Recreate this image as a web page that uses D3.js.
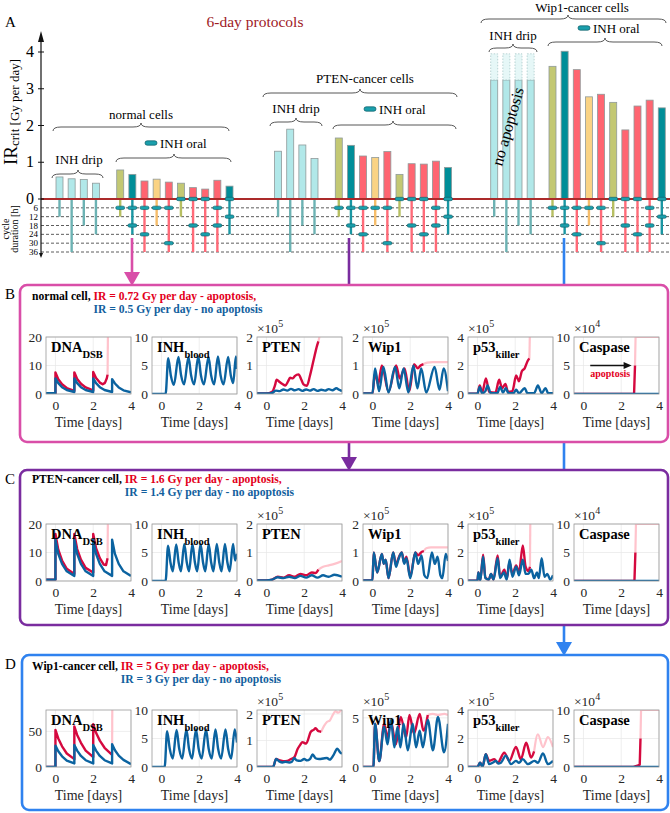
<!DOCTYPE html>
<html>
<head>
<meta charset="utf-8">
<script src="https://cdn.jsdelivr.net/npm/d3@7"></script>
<style>
  body { margin: 0; background: #fff; }
  text { font-family: "Liberation Serif", "DejaVu Serif", serif; }
</style>
</head>
<body>
<div id="chart"></div>
<script>
// ---------- panel A : critical IR doses ----------
const groups = ['normal cells', 'PTEN-cancer cells', 'Wip1-cancer cells'];
const irTicks = [0, 1, 2, 3, 4];
const cycleTicks = [6, 12, 18, 24, 30, 36];
const dripIR = [
  [0.6, 0.55, 0.53, 0.43],
  [1.3, 1.9, 1.47, 1.1],
  [3.24, 3.24, 3.24, 3.24]
];
const wip1DripBeyond = 3.95; // no apoptosis: bars leave the range
const dripCycle = [12, 36, 18, 24];
const oralIR = [
  [0.79, 0.67, 0.49, 0.54, 0.46, 0.43, 0.31, 0.27, 0.51, 0.35],
  [1.66, 1.46, 1.17, 1.13, 1.29, 0.67, 0.96, 0.95, 1.03, 0.86],
  [3.61, 4.02, 3.52, 2.78, 2.85, 2.63, 1.88, 2.53, 2.69, 2.48]
];
const oralKind = ['olive', 'teal', 'red', 'yellow', 'red', 'olive', 'red', 'red', 'red', 'teal'];
const oralCycle = [12, 24, 36, 18, 36, 12, 36, 36, 36, 24];
const oralDoses = [[6], [6, 18], [6, 24], [6], [6, 30], [0], [0, 18], [0, 24], [6, 18], [0, 12]];

// ---------- panels B-D : time courses [t, value] ----------
const timeTicks = [0, 2, 4];
const varNames = ['DNA', 'INH', 'PTEN', 'Wip1', 'p53', 'Caspase'];
const varSubs = ['DSB', 'blood', '', '', 'killer', ''];
const varExp = ['', '', '5', '5', '5', '4'];
const yMaxBC = [20, 10, 2, 2, 4, 10];
const yTicksBC = [[0, 10, 20], [0, 5, 10], [0, 1, 2], [0, 1, 2], [0, 2, 4], [0, 5, 10]];
const yMaxD = [80, 10, 2.15, 5.8, 4, 10];
const yTicksD = [[0, 50], [0, 5, 10], [0, 1, 2], [0, 5], [0, 2, 4], [0, 5, 10]];
const cellNames = ['normal cell, ', 'PTEN-cancer cell, ', 'Wip1-cancer cell, '];
const irApoptosis = [0.72, 1.6, 5];
const irNoApoptosis = [0.5, 1.4, 3];

// B: normal cell
const B_dna_blue = [[-0.5,0.3],[0,0.3],[0,5.5],[0.15,3.8],[0.35,2.4],[0.6,1.4],[1,0.7],[1,5.5],[1.15,3.8],[1.35,2.4],[1.6,1.4],[2,0.7],[2,5.5],[2.15,3.8],[2.35,2.4],[2.6,1.4],[3,0.7],[3,5.2],[3.15,3.7],[3.35,2.3],[3.6,1.3],[4,0.6]];
const B_dna_red = [[-0.5,0.3],[0,0.3],[0,7.6],[0.15,5.2],[0.35,3.4],[0.6,2.1],[1,1.1],[1,7.6],[1.15,5.3],[1.35,3.6],[1.6,2.3],[2,1.3],[2,7.7],[2.15,5.6],[2.35,4],[2.5,3.4],[2.62,3.9],[2.72,5.5],[2.76,6.8]];
const B_dna_pale = [[2.76,6.8],[2.78,22]];
const B_inh_blue = [[-0.5,0],[0.22,0],[0.36,6.3],[0.5,3.2],[0.66,1.6],[0.9,6.5],[1.04,3.3],[1.2,1.7],[1.43,6.5],[1.57,3.3],[1.73,1.7],[1.95,6.6],[2.09,3.3],[2.25,1.7],[2.49,6.5],[2.63,3.3],[2.79,1.7],[2.99,6.6],[3.13,3.3],[3.29,1.7],[3.53,6.5],[3.67,3.3],[3.8,1.9],[3.94,6.6],[4,4.4]];
const B_pten_blue = [[-0.5,0.02],[0,0.02],[0.3,0.04],[0.5,0.12],[0.7,0.1],[0.9,0.16],[1.1,0.12],[1.3,0.18],[1.5,0.13],[1.7,0.17],[1.9,0.11],[2.1,0.16],[2.3,0.12],[2.5,0.17],[2.7,0.11],[2.9,0.15],[3.1,0.12],[3.3,0.17],[3.5,0.13],[3.7,0.2],[3.85,0.15],[4,0.1]];
const B_pten_red = [[-0.5,0.02],[0,0.02],[0.3,0.08],[0.45,0.3],[0.54,0.5],[0.7,0.42],[0.85,0.35],[1.0,0.3],[1.15,0.45],[1.25,0.57],[1.4,0.55],[1.5,0.63],[1.7,0.69],[1.85,0.5],[1.96,0.34],[2.14,0.29],[2.3,0.63],[2.5,1.2],[2.68,1.7],[2.75,1.85]];
const B_pten_pale = [[2.75,1.85],[2.8,2.0],[2.85,2.3]];
const B_wip_blue = [[-0.5,0.02],[0,0.02],[0.14,0.9],[0.35,0.1],[0.58,0.95],[0.85,0.05],[1.2,0.95],[1.42,0.2],[1.65,0.9],[1.9,0.05],[2.17,1.0],[2.38,0.2],[2.58,0.9],[2.85,0.05],[3.29,0.95],[3.55,0.15],[3.77,0.9],[4,0.1]];
const B_wip_red = [[-0.5,0.02],[0,0.02],[0.14,0.75],[0.3,0.35],[0.5,1.0],[0.85,0.08],[1.25,1.0],[1.45,0.55],[1.7,0.9],[1.95,0.1],[2.2,1.05],[2.4,0.9],[2.55,1.0],[2.7,1.05]];
const B_wip_pale = [[2.7,1.05],[2.9,1.1],[3.2,1.12],[4,1.12]];
const B_p53_blue = [[-0.5,0.02],[0,0.02],[0.12,0.5],[0.25,0.05],[0.42,0.2],[0.54,0.6],[0.7,0.05],[1.05,0.05],[1.2,0.5],[1.35,0.1],[1.5,0.4],[1.65,0.05],[1.9,0.05],[2.05,0.3],[2.2,0.05],[2.5,0.4],[2.65,0.05],[3.0,0.05],[3.2,0.6],[3.4,0.05],[3.6,0.4],[3.75,0.05],[4,0.05]];
const B_p53_red = [[-0.5,0.02],[0,0.02],[0.12,0.6],[0.25,0.1],[0.45,1.1],[0.62,0.15],[0.95,0.1],[1.15,1.0],[1.3,0.4],[1.48,0.7],[1.62,0.15],[1.85,0.2],[2.05,1.3],[2.2,0.9],[2.35,1.6],[2.5,1.8],[2.65,2.3],[2.75,2.5]];
const B_p53_pale = [[2.75,2.5],[2.78,4.5]];
const B_casp_blue = [[-0.5,0],[4,0]];
const B_casp_red = [[-0.5,0],[2.68,0],[2.73,5]];
const B_casp_pale = [[2.73,5],[2.76,10],[4,10]];

// C: PTEN-cancer cell
const C_dna_blue = [[-0.5,0.5],[0,0.5],[0,14.5],[0.15,9.5],[0.35,6],[0.6,3.4],[1,1.8],[1,14.5],[1.15,9.5],[1.35,6],[1.6,3.4],[2,1.8],[2,14.5],[2.15,9.5],[2.35,6],[2.6,3.4],[3,1.8],[3,14.5],[3.15,9.5],[3.35,6],[3.6,3.4],[4,1.8]];
const C_dna_red = [[-0.5,0.5],[0,0.5],[0,16.5],[0.15,11],[0.35,7.2],[0.6,4.3],[1,2.5],[1,16.5],[1.15,11.2],[1.35,7.5],[1.6,4.6],[2,3],[2,16.5],[2.15,11.5],[2.35,8],[2.55,5.8],[2.68,5.6],[2.76,8]];
const C_dna_pale = [[2.76,8],[2.78,25]];
const C_inh_blue = [[-0.5,0],[0.22,0],[0.35,6.2],[0.48,3.2],[0.6,1.7],[0.78,6.4],[0.91,3.3],[1.03,1.7],[1.21,6.5],[1.34,3.3],[1.46,1.7],[1.64,6.5],[1.77,3.3],[1.89,1.7],[2.07,6.5],[2.2,3.3],[2.32,1.7],[2.5,6.5],[2.63,3.3],[2.75,1.7],[2.93,6.5],[3.06,3.3],[3.18,1.7],[3.36,6.5],[3.49,3.3],[3.61,1.7],[3.79,6.5],[3.9,3.6],[4,4.8]];
const C_pten_blue = [[-0.5,0.02],[0,0.02],[0.3,0.05],[0.6,0.13],[0.9,0.1],[1.2,0.15],[1.5,0.1],[1.8,0.18],[2.1,0.12],[2.4,0.2],[2.7,0.12],[3.0,0.2],[3.3,0.15],[3.6,0.22],[4,0.15]];
const C_pten_red = [[-0.5,0.02],[0,0.02],[0.3,0.05],[0.6,0.15],[0.9,0.12],[1.2,0.2],[1.5,0.15],[1.8,0.25],[2.1,0.2],[2.4,0.3],[2.6,0.28],[2.75,0.4]];
const C_pten_pale = [[2.75,0.4],[3.0,0.5],[3.3,0.55],[3.6,0.6],[4,0.7]];
const C_wip_blue = [[-0.5,0.02],[0,0.02],[0.07,1.0],[0.25,0.3],[0.5,0.95],[0.6,0.6],[0.7,0.75],[0.85,0.1],[1.1,1.0],[1.25,0.5],[1.35,0.7],[1.55,1.0],[1.68,0.6],[1.8,0.8],[2.0,0.1],[2.27,1.0],[2.42,0.6],[2.6,0.9],[2.75,0.2],[2.9,0.1],[3.15,1.0],[3.3,0.6],[3.45,0.85],[3.6,0.2],[3.7,0.1],[3.88,0.95],[4,0.7]];
const C_wip_red = [[-0.5,0.02],[0,0.02],[0.07,1.0],[0.25,0.3],[0.5,0.95],[0.6,0.6],[0.7,0.75],[0.85,0.1],[1.1,1.0],[1.25,0.55],[1.35,0.75],[1.55,1.0],[1.68,0.65],[1.8,0.85],[2.0,0.15],[2.27,1.0],[2.42,0.9],[2.6,1.02],[2.72,1.05]];
const C_wip_pale = [[2.72,1.05],[2.85,1.15],[3.1,1.18],[4,1.18]];
const C_p53_blue = [[-0.5,0.02],[0,0.02],[0.05,0.6],[0.15,0.05],[0.3,1.7],[0.42,0.2],[0.6,0.1],[0.72,0.5],[0.85,0.1],[1.07,1.6],[1.2,0.2],[1.4,0.6],[1.55,0.1],[1.7,1.5],[1.85,0.3],[2.05,1.0],[2.2,0.4],[2.4,1.5],[2.55,0.5],[2.7,0.5],[2.85,0.8],[3.0,0.2],[3.15,0.6],[3.25,0.2],[3.4,1.6],[3.55,0.3],[3.7,0.5],[3.85,0.1],[4,0.4]];
const C_p53_red = [[-0.5,0.02],[0,0.02],[0.05,0.6],[0.15,0.05],[0.3,1.85],[0.42,0.25],[0.6,0.1],[0.72,0.5],[0.85,0.1],[1.07,1.8],[1.2,0.3],[1.43,0.8],[1.55,0.15],[1.7,1.3],[1.85,0.5],[2.05,1.1],[2.2,0.6],[2.4,2.5],[2.55,1.0],[2.7,0.7],[2.78,1.0]];
const C_p53_pale = [[2.78,1.0],[2.8,4.5]];
const C_casp_blue = [[-0.5,0],[4,0]];
const C_casp_red = [[-0.5,0],[2.7,0],[2.75,5]];
const C_casp_pale = [[2.75,5],[2.78,10],[4,10]];

// D: Wip1-cancer cell
const D_dna_blue = [[-0.5,0],[0,0],[0,30],[0.15,22],[0.35,15],[0.6,9],[1,5],[1,31],[1.15,23],[1.35,15.5],[1.6,9.5],[2,5],[2,31],[2.15,23],[2.35,15.5],[2.6,9.5],[3,5],[3,32],[3.15,23.5],[3.35,16],[3.6,10],[4,4]];
const D_dna_red = [[-0.5,0],[0,0],[0,52],[0.15,40],[0.35,29],[0.6,19],[1,11],[1,57],[1.15,45],[1.35,34],[1.6,23],[2,14],[2,60],[2.15,48],[2.35,37],[2.6,27],[3,17]];
const D_dna_pale = [[3,17],[3.01,90]];
const D_inh_blue = [[-0.5,0],[0.17,0],[0.3,6.3],[0.44,3.2],[0.6,1.5],[0.8,6.5],[0.94,3.2],[1.1,1.5],[1.32,6.6],[1.46,3.2],[1.62,1.5],[1.83,6.6],[1.97,3.2],[2.13,1.5],[2.36,6.6],[2.5,3.2],[2.66,1.5],[2.86,6.6],[3.0,3.2],[3.16,1.5],[3.39,6.6],[3.53,3.2],[3.69,1.5],[3.88,6.6],[4,4.3]];
const D_pten_blue = [[-0.5,0],[0.35,0],[0.51,0.3],[0.7,0.2],[0.85,0.17],[1.0,0.2],[1.2,0.17],[1.35,0.2],[1.47,0.34],[1.6,0.25],[1.8,0.23],[2.0,0.3],[2.15,0.25],[2.3,0.3],[2.45,0.47],[2.6,0.33],[2.8,0.3],[3.0,0.32],[3.2,0.34],[3.35,0.28],[3.55,0.45],[3.75,0.69],[3.9,0.55],[4,0.5]];
const D_pten_red = [[-0.5,0],[0.35,0],[0.51,0.3],[0.7,0.25],[0.9,0.22],[1.1,0.23],[1.3,0.3],[1.47,0.36],[1.65,0.68],[1.8,0.85],[1.9,0.94],[2.1,0.88],[2.35,1.33],[2.5,1.4],[2.6,1.46],[2.75,1.35],[2.9,1.33]];
const D_pten_pale = [[2.9,1.33],[3.05,1.55],[3.2,1.7],[3.35,1.75],[3.5,1.95],[3.65,2.1],[3.8,2.05],[4,2.2]];
const D_wip_blue = [[-0.5,0],[0.05,0],[0.14,4.4],[0.36,0.6],[0.62,4.1],[0.8,2.3],[0.98,4.8],[1.16,2.0],[1.33,4.1],[1.48,2.0],[1.65,4.4],[1.87,1.7],[2.13,4.4],[2.31,2.0],[2.5,3.7],[2.67,2.0],[2.93,4.8],[3.2,1.7],[3.47,5.1],[3.79,1.5],[4,4.4]];
const D_wip_red = [[-0.5,0],[0.05,0],[0.14,4.4],[0.36,0.6],[0.62,4.4],[0.8,3.0],[0.98,4.6],[1.24,2.3],[1.5,5.1],[1.78,3.0],[1.96,5.3],[2.2,3.4],[2.5,5.4],[2.7,3.7],[2.93,5.3]];
const D_wip_pale = [[2.93,5.3],[3.2,5.4],[3.47,5.3],[3.8,5.4],[4,5.3]];
const D_p53_blue = [[-0.5,0],[0,0],[0.14,0.3],[0.27,0.02],[0.44,0.9],[0.62,0.2],[0.8,0.3],[0.98,0.43],[1.1,0.25],[1.24,0.3],[1.5,0.8],[1.78,0.2],[2.04,0.43],[2.2,0.3],[2.4,0.55],[2.67,0.2],[3.02,0.43],[3.2,0.3],[3.47,0.95],[3.73,0.2],[4,0.43]];
const D_p53_red = [[-0.5,0],[0,0],[0.14,0.3],[0.27,0.02],[0.44,0.9],[0.62,0.43],[0.89,0.55],[1.07,0.3],[1.42,1.0],[1.69,0.43],[2.04,1.4],[2.3,0.55],[2.58,1.7],[2.84,0.67],[3.0,1.1]];
const D_p53_pale = [[3.0,1.1],[3.2,2.3],[3.47,1.4],[3.73,2.1],[4,1.4]];
const D_casp_blue = [[-0.5,0],[4,0]];
const D_casp_red = [[-0.5,0],[2.65,0],[2.9,0.3],[2.98,0.4],[3.02,5]];
const D_casp_pale = [[3.02,5],[3.05,10],[4,10]];

// ---------- drawing ----------
const svg = d3.select('#chart').append('svg')
  .attr('width', 670).attr('height', 813);

const barFill = { olive: '#c3c873', teal: '#008e98', red: '#ff6571', yellow: '#fad384', drip: '#b1e8e9' };
const stemCol = { olive: '#b7bf62', teal: '#1a97a3', red: '#ff6a78', yellow: '#f6bd6a', drip: '#6cb2b3' };

const yIR = d3.scaleLinear().domain([0, 4]).range([199, 52]);
const yCyc = d3.scaleLinear().domain([0, 36]).range([199, 252]);
const xSlot = d3.scaleLinear().domain([0, 14]).range([56, 226]);
const barW = 7;
const dripSlot = [0, 18, 35.8], oralSlot = [5, 23, 40.6];

const A = svg.append('g');

// dashed cycle-duration levels
A.selectAll('line.cyc').data(cycleTicks).join('line')
  .attr('x1', 41).attr('x2', 670)
  .attr('y1', d => yCyc(d)).attr('y2', d => yCyc(d))
  .attr('stroke', '#333').attr('stroke-width', 0.8).attr('stroke-dasharray', '3,2');

const bars = [];
groups.forEach((g, gi) => {
  dripIR[gi].forEach((v, i) => bars.push({
    x: xSlot(dripSlot[gi] + i), ir: v, kind: 'drip', cycle: dripCycle[i], doses: [],
    beyond: gi === 2 ? wip1DripBeyond : null
  }));
  oralIR[gi].forEach((v, i) => bars.push({
    x: xSlot(oralSlot[gi] + i), ir: v, kind: oralKind[i], cycle: oralCycle[i], doses: oralDoses[i]
  }));
});

// stems down to cycle duration
A.selectAll('line.stem').data(bars).join('line')
  .attr('x1', d => d.x + barW / 2).attr('x2', d => d.x + barW / 2)
  .attr('y1', yIR(0)).attr('y2', d => yCyc(d.cycle))
  .attr('stroke', d => stemCol[d.kind]).attr('stroke-width', 2.4);

// bars
A.selectAll('rect.bar').data(bars).join('rect')
  .attr('x', d => d.x).attr('width', barW)
  .attr('y', d => yIR(d.ir)).attr('height', d => yIR(0) - yIR(d.ir))
  .attr('fill', d => barFill[d.kind]).attr('stroke', '#8f9a9a').attr('stroke-width', 0.8);

A.selectAll('rect.beyond').data(bars.filter(d => d.beyond)).join('rect')
  .attr('x', d => d.x).attr('width', barW)
  .attr('y', d => yIR(d.beyond)).attr('height', d => yIR(d.ir) - yIR(d.beyond))
  .attr('fill', '#e6f7f7').attr('stroke', '#a9c9c9').attr('stroke-width', 0.8)
  .attr('stroke-dasharray', '1.5,1.5');

// baseline
A.append('line').attr('x1', 41).attr('x2', 670).attr('y1', yIR(0)).attr('y2', yIR(0))
  .attr('stroke', '#ab2a2a').attr('stroke-width', 2);

// oral dose pills
const pills = [];
bars.forEach(b => b.doses.forEach(t => pills.push({ x: b.x + barW / 2, t })));
A.selectAll('rect.pill').data(pills).join('rect')
  .attr('x', d => d.x - 4.5).attr('y', d => yCyc(d.t) - 1.7).attr('width', 9).attr('height', 3.4)
  .attr('rx', 1.7).attr('fill', '#1a9fac').attr('stroke', '#0b5a64').attr('stroke-width', 0.6);

// y axis with arrows
A.append('line').attr('x1', 41).attr('x2', 41).attr('y1', 40).attr('y2', 254)
  .attr('stroke', '#111').attr('stroke-width', 1.2);
A.append('path').attr('d', 'M41,31 L38,42 L44,42 Z').attr('fill', '#111');
A.append('path').attr('d', 'M41,258 L39,253 L43,253 Z').attr('fill', '#111');
A.selectAll('line.irt').data(irTicks).join('line')
  .attr('x1', 38).attr('x2', 44).attr('y1', d => yIR(d)).attr('y2', d => yIR(d))
  .attr('stroke', '#111');
A.selectAll('text.irt').data(irTicks).join('text')
  .attr('x', 34).attr('y', d => yIR(d) + 5).attr('text-anchor', 'end')
  .attr('font-size', 16).text(d => d);
A.selectAll('text.cyt').data(cycleTicks).join('text')
  .attr('x', 38).attr('y', d => yCyc(d) + 3).attr('text-anchor', 'end')
  .attr('font-size', 9).text(d => d);

const yl = A.append('text').attr('transform', 'translate(17,112) rotate(-90)').attr('text-anchor', 'middle');
yl.append('tspan').attr('font-size', 19).text('IR');
yl.append('tspan').attr('font-size', 13).attr('dy', 2).text('crit [Gy per day]');
A.append('text').attr('transform', 'translate(9,229) rotate(-90)').attr('text-anchor', 'middle')
  .attr('font-size', 10).text('cycle');
A.append('text').attr('transform', 'translate(18,229) rotate(-90)').attr('text-anchor', 'middle')
  .attr('font-size', 10).text('duration [h]');

A.append('text').attr('x', 5).attr('y', 27).attr('font-size', 15).text('A');
A.append('text').attr('x', 255).attr('y', 27).attr('text-anchor', 'middle')
  .attr('font-size', 15.5).attr('fill', '#9e1a1f').text('6-day protocols');

// braces + group labels
function brace(x1, x2, xm, y, h) {
  const p = d3.path();
  p.moveTo(x1, y + h);
  p.quadraticCurveTo(x1, y, x1 + h * 2, y);
  p.lineTo(xm - h * 2, y);
  p.quadraticCurveTo(xm, y, xm, y - h);
  p.quadraticCurveTo(xm, y, xm + h * 2, y);
  p.lineTo(x2 - h * 2, y);
  p.quadraticCurveTo(x2, y, x2, y + h);
  A.append('path').attr('d', p.toString()).attr('fill', 'none')
    .attr('stroke', '#444').attr('stroke-width', 0.9);
}
function label(x, y, s, anchor) {
  A.append('text').attr('x', x).attr('y', y).attr('text-anchor', anchor || 'middle')
    .attr('font-size', 13).text(s);
}
function pillLegend(x, y) {
  A.append('rect').attr('x', x).attr('y', y - 2.2).attr('width', 12).attr('height', 4.4).attr('rx', 2.2)
    .attr('fill', '#1a9fac').attr('stroke', '#0b5a64').attr('stroke-width', 0.7);
  label(x + 15, y + 4.5, 'INH oral', 'start');
}
// normal cells
label(141, 119, groups[0]); brace(53, 229, 141, 127, 4);
label(79, 164, 'INH drip'); brace(52, 103, 78, 174, 4);
pillLegend(145, 143); brace(116, 231, 174, 158, 4);
// PTEN-cancer cells
label(365, 83, groups[1]); brace(263, 457, 360, 93, 4);
label(296, 113, 'INH drip'); brace(270, 322, 296, 122, 4);
pillLegend(364, 109); brace(333, 456, 393, 125, 4);
// Wip1-cancer cells
label(582, 12, groups[2]); brace(481, 666, 568, 19, 4);
label(513, 40, 'INH drip'); brace(489, 537, 513, 48, 4);
pillLegend(578, 28); brace(548, 662, 605, 42, 4);

A.append('text').attr('transform', 'translate(513,128) rotate(-74)').attr('text-anchor', 'middle')
  .attr('font-size', 16).text('no apoptosis');

// ---------- connecting arrows ----------
const cMag = '#d94ea8', cPur = '#7a2c9f', cBlu = '#2f82ef';
function vline(x, y1, y2, c) {
  svg.append('line').attr('x1', x).attr('x2', x).attr('y1', y1).attr('y2', y2)
    .attr('stroke', c).attr('stroke-width', 2.6);
}
function head(x, y, c) {
  svg.append('path').attr('d', `M${x - 8},${y - 14} L${x + 8},${y - 14} L${x},${y} Z`).attr('fill', c);
}
vline(132, 238, 272, cMag); head(132, 286, cMag);
vline(349, 238, 286, cPur); vline(349, 442, 458, cPur); head(349, 471, cPur);
vline(564, 238, 286, cBlu); vline(564, 442, 471, cBlu); vline(564, 625, 643, cBlu); head(564, 656, cBlu);

// ---------- panels B, C, D ----------
const subLefts = [46, 152, 257, 363, 468, 574];
const subW = 85, subH = 57;
const panels = [
  { letter: 'B', col: cMag, box: [20, 285, 648, 157], title: 300, top: 337,
    yMax: yMaxBC, yTicks: yTicksBC,
    series: [[B_dna_blue, B_dna_red, B_dna_pale], [B_inh_blue], [B_pten_blue, B_pten_red, B_pten_pale],
             [B_wip_blue, B_wip_red, B_wip_pale], [B_p53_blue, B_p53_red, B_p53_pale], [B_casp_blue, B_casp_red, B_casp_pale]] },
  { letter: 'C', col: cPur, box: [20, 470, 648, 155], title: 483, top: 524,
    yMax: yMaxBC, yTicks: yTicksBC,
    series: [[C_dna_blue, C_dna_red, C_dna_pale], [C_inh_blue], [C_pten_blue, C_pten_red, C_pten_pale],
             [C_wip_blue, C_wip_red, C_wip_pale], [C_p53_blue, C_p53_red, C_p53_pale], [C_casp_blue, C_casp_red, C_casp_pale]] },
  { letter: 'D', col: cBlu, box: [22, 655, 646, 155], title: 670, top: 710,
    yMax: yMaxD, yTicks: yTicksD,
    series: [[D_dna_blue, D_dna_red, D_dna_pale], [D_inh_blue], [D_pten_blue, D_pten_red, D_pten_pale],
             [D_wip_blue, D_wip_red, D_wip_pale], [D_p53_blue, D_p53_red, D_p53_pale], [D_casp_blue, D_casp_red, D_casp_pale]] }
];

const red = '#d5093f', blue = '#0b63a0', pale = '#ffc3cc';

panels.forEach((P, pi) => {
  const g = svg.append('g');
  const [bx, by, bw, bh] = P.box;
  g.append('rect').attr('x', bx).attr('y', by).attr('width', bw).attr('height', bh).attr('rx', 7)
    .attr('fill', 'none').attr('stroke', P.col).attr('stroke-width', 2.6);
  g.append('text').attr('x', 5).attr('y', by + 14).attr('font-size', 15).text(P.letter);

  // title
  const t1 = g.append('text').attr('x', 32).attr('y', P.title).attr('font-size', 11.6).attr('font-weight', 'bold');
  const black = t1.append('tspan').text(cellNames[pi]);
  t1.append('tspan').attr('fill', '#e3001b').text(`IR = ${irApoptosis[pi]} Gy per day - apoptosis,`);
  const off = black.node().getComputedTextLength();
  g.append('text').attr('x', 32 + off).attr('y', P.title + 13).attr('font-size', 11.6).attr('font-weight', 'bold')
    .attr('fill', '#135f9e').text(`IR = ${irNoApoptosis[pi]} Gy per day - no apoptosis`);

  P.series.forEach((S, vi) => {
    const left = subLefts[vi], top = P.top;
    const x = d3.scaleLinear().domain([-0.5, 4]).range([left, left + subW]);
    const y = d3.scaleLinear().domain([0, P.yMax[vi]]).range([top + subH, top]);

    g.append('rect').attr('x', left).attr('y', top).attr('width', subW).attr('height', subH).attr('fill', '#fff');
    g.append('g').selectAll('line').data(timeTicks).join('line')
      .attr('x1', d => x(d)).attr('x2', d => x(d)).attr('y1', top).attr('y2', top + subH)
      .attr('stroke', '#e6e6e6').attr('stroke-width', 0.7);
    g.append('g').selectAll('line').data(P.yTicks[vi]).join('line')
      .attr('x1', left).attr('x2', left + subW).attr('y1', d => y(d)).attr('y2', d => y(d))
      .attr('stroke', '#e6e6e6').attr('stroke-width', 0.7);

    const cid = `clip${P.letter}${vi}`;
    g.append('clipPath').attr('id', cid).append('rect')
      .attr('x', left).attr('y', top).attr('width', subW).attr('height', subH);
    const smooth = vi !== 0 && vi !== 5;
    const line = d3.line().x(d => x(d[0])).y(d => y(d[1]))
      .curve(smooth ? d3.curveMonotoneX : d3.curveLinear);
    const lg = g.append('g').attr('clip-path', `url(#${cid})`);
    const [sBlue, sRed, sPale] = S;
    [[sPale, pale, 2.2], [sRed, red, 2.4], [sBlue, blue, 2.4]].forEach(([pts, c, w]) => {
      if (!pts) return;
      lg.append('path').datum(pts).attr('d', line).attr('fill', 'none')
        .attr('stroke', c).attr('stroke-width', w).attr('stroke-linejoin', 'round');
    });

    g.append('rect').attr('x', left).attr('y', top).attr('width', subW).attr('height', subH)
      .attr('fill', 'none').attr('stroke', '#9a9a9a').attr('stroke-width', 0.8);

    const ax = g.append('g').attr('transform', `translate(0,${top + subH})`)
      .call(d3.axisBottom(x).tickValues(timeTicks).tickSize(0).tickPadding(6).tickFormat(d3.format('d')));
    ax.select('.domain').remove();
    ax.selectAll('text').attr('font-size', 13.5).attr('fill', '#262626')
      .attr('font-family', '"Liberation Serif", serif');
    const ay = g.append('g').attr('transform', `translate(${left},0)`)
      .call(d3.axisLeft(y).tickValues(P.yTicks[vi]).tickSize(0).tickPadding(4).tickFormat(d3.format('d')));
    ay.select('.domain').remove();
    ay.selectAll('text').attr('font-size', 13.5).attr('fill', '#262626')
      .attr('font-family', '"Liberation Serif", serif');

    g.append('text').attr('x', left + subW / 2).attr('y', top + subH + 33).attr('text-anchor', 'middle')
      .attr('font-size', 14).attr('fill', '#262626').text('Time [days]');

    if (varExp[vi]) {
      const e = g.append('text').attr('x', left).attr('y', top - 4).attr('font-size', 13.5).attr('fill', '#262626');
      e.append('tspan').text('\u00d710');
      e.append('tspan').attr('font-size', 10).attr('dy', -6).text(varExp[vi]);
    }

    const nt = g.append('text').attr('x', left + 5).attr('y', top + 15)
      .attr('font-size', 14.5).attr('font-weight', 'bold');
    nt.append('tspan').text(varNames[vi]);
    if (varSubs[vi]) nt.append('tspan').attr('font-size', 10.5).attr('dy', 6).text(varSubs[vi]);

    // apoptosis arrow in the first caspase plot
    if (pi === 0 && vi === 5) {
      g.append('line').attr('x1', x(0.36)).attr('x2', x(2.3)).attr('y1', y(5)).attr('y2', y(5))
        .attr('stroke', '#111').attr('stroke-width', 1.3);
      g.append('path').attr('d', `M${x(2.55)},${y(5)} l-8,-3.5 l0,7 Z`).attr('fill', '#111');
      g.append('text').attr('x', x(1.42)).attr('y', y(2.9)).attr('text-anchor', 'middle')
        .attr('font-size', 10).attr('font-weight', 'bold').attr('fill', '#e3001b').text('apoptosis');
    }
  });
});
</script>
</body>
</html>
